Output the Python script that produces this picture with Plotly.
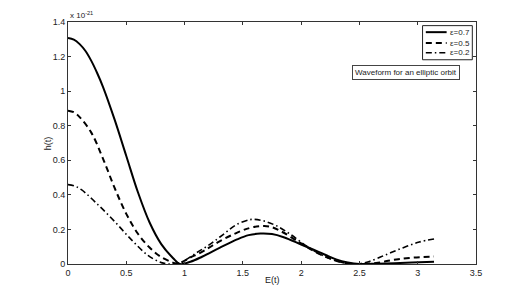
import plotly.graph_objects as go

# e = 0.7 (solid)
x_e07 = [0, 0.05, 0.1, 0.15, 0.2, 0.25, 0.3, 0.4, 0.5, 0.6, 0.7, 0.8, 0.9, 0.96, 1.05, 1.15, 1.3,
         1.45, 1.55, 1.65, 1.75, 1.85, 2.0, 2.15, 2.3, 2.4, 2.5, 2.65, 2.8, 2.95, 3.14]
h_e07 = [1.307, 1.298, 1.272, 1.232, 1.175, 1.105, 1.025, 0.835, 0.625, 0.415, 0.24, 0.115, 0.035,
         0.0, 0.013, 0.042, 0.093, 0.142, 0.167, 0.176, 0.173, 0.155, 0.113, 0.07, 0.027, 0.009,
         0.0, 0.002, 0.005, 0.009, 0.013]

# e = 0.5 (dashed)
x_e05 = [0, 0.05, 0.1, 0.2, 0.3, 0.4, 0.5, 0.6, 0.7, 0.8, 0.9, 0.94, 1.043, 1.157, 1.3, 1.443,
         1.557, 1.65, 1.728, 1.828, 1.971, 2.114, 2.257, 2.4, 2.5, 2.643, 2.786, 2.928, 3.14]
h_e05 = [0.887, 0.878, 0.85, 0.76, 0.61, 0.44, 0.29, 0.175, 0.095, 0.04, 0.008, 0.0, 0.035, 0.073,
         0.131, 0.179, 0.208, 0.219, 0.217, 0.189, 0.131, 0.073, 0.029, 0.003, 0.0, 0.006, 0.023,
         0.035, 0.043]

# e = 0.2 (dash-dot)
x_e02 = [0, 0.05, 0.115, 0.257, 0.4, 0.543, 0.686, 0.8, 0.87, 0.93, 0.986, 1.1, 1.214, 1.328,
         1.443, 1.557, 1.6, 1.686, 1.8, 1.914, 2.028, 2.143, 2.257, 2.371, 2.48, 2.585, 2.728,
         2.871, 3.013, 3.14]
h_e02 = [0.459, 0.453, 0.43, 0.343, 0.246, 0.141, 0.05, 0.008, 0.0, 0.005, 0.015, 0.064, 0.112,
         0.169, 0.227, 0.256, 0.258, 0.248, 0.217, 0.169, 0.112, 0.064, 0.029, 0.006, 0.0, 0.015,
         0.054, 0.093, 0.127, 0.145]

names = ["ε=0.7", "ε=0.5", "ε=0.2"]
x_ticks = [0, 0.5, 1, 1.5, 2, 2.5, 3, 3.5]
x_tick_labels = ["0", "0.5", "1", "1.5", "2", "2.5", "3", "3.5"]
y_ticks = [0, 0.2, 0.4, 0.6, 0.8, 1.0, 1.2, 1.4]
y_tick_labels = ["0", "0.2", "0.4", "0.6", "0.8", "1", "1.2", "1.4"]

FONT = "Liberation Sans, Arial, Helvetica, sans-serif"
TXT = "#222"

fig = go.Figure()
styles = [("solid", 2.0), ("6px,4px", 2.0), ("6px,3px,1.5px,3px", 1.6)]
for xs, ys, nm, (dash, w) in zip([x_e07, x_e05, x_e02], [h_e07, h_e05, h_e02], names, styles):
    fig.add_trace(go.Scatter(x=xs, y=ys, mode="lines", name=nm, showlegend=False, hoverinfo="skip",
                             line=dict(color="black", width=w, dash=dash, shape="spline", smoothing=1.0)))

axis_common = dict(showline=True, linecolor="#333", linewidth=1, mirror="ticks", ticks="inside",
                   ticklen=3, tickcolor="#333", showgrid=False, zeroline=False,
                   tickfont=dict(family=FONT, size=9, color=TXT))
fig.update_xaxes(range=[0, 3.5], tickvals=x_ticks, ticktext=x_tick_labels, **axis_common)
fig.update_yaxes(range=[0, 1.4], tickvals=y_ticks, ticktext=y_tick_labels, **axis_common)

# hand-built compact legend (Matlab style)
shapes = [dict(type="rect", xref="paper", yref="paper", x0=0.869, x1=0.991, y0=0.844, y1=0.985,
               line=dict(color="#222", width=1), fillcolor="white", layer="above")]
annotations = []
leg_rows = [0.958, 0.913, 0.873]
for (dash, w), nm, yy in zip(styles, names, leg_rows):
    shapes.append(dict(type="line", xref="paper", yref="paper", x0=0.877, x1=0.928, y0=yy, y1=yy,
                       line=dict(color="black", width=w, dash=dash), layer="above"))
    annotations.append(dict(text=nm, x=0.932, y=yy, xref="paper", yref="paper", xanchor="left",
                            yanchor="middle", showarrow=False,
                            font=dict(family=FONT, size=8, color=TXT)))

annotations += [
    dict(text="x 10<sup>-21</sup>", x=0, y=1, xref="paper", yref="paper", xanchor="left",
         yanchor="bottom", showarrow=False, font=dict(family=FONT, size=8, color=TXT)),
    dict(text="E(t)", x=0.5, y=-0.068, xref="paper", yref="paper", xanchor="center",
         yanchor="middle", showarrow=False, font=dict(family=FONT, size=9, color=TXT)),
    dict(text="h(t)", x=-0.0486, y=0.5, xref="paper", yref="paper", xanchor="center",
         yanchor="middle", textangle=-90, showarrow=False, font=dict(family=FONT, size=9, color=TXT)),
    dict(text="Waveform for an elliptic orbit", x=0.828, y=0.793, xref="paper", yref="paper",
         xanchor="center", yanchor="middle", showarrow=False, bgcolor="white",
         bordercolor="#444", borderwidth=1, borderpad=2,
         font=dict(family=FONT, size=8, color=TXT)),
]

fig.update_layout(
    width=526, height=298,
    margin=dict(l=68, r=50, t=22, b=34),
    plot_bgcolor="white", paper_bgcolor="white",
    font=dict(family=FONT, size=9, color=TXT),
    showlegend=False,
    hovermode=False,
    shapes=shapes,
    annotations=annotations,
)

fig.write_html("out.html", config={"displayModeBar": False, "staticPlot": True},
               post_script="document.body.style.margin='0px';document.body.style.overflow='hidden';")
